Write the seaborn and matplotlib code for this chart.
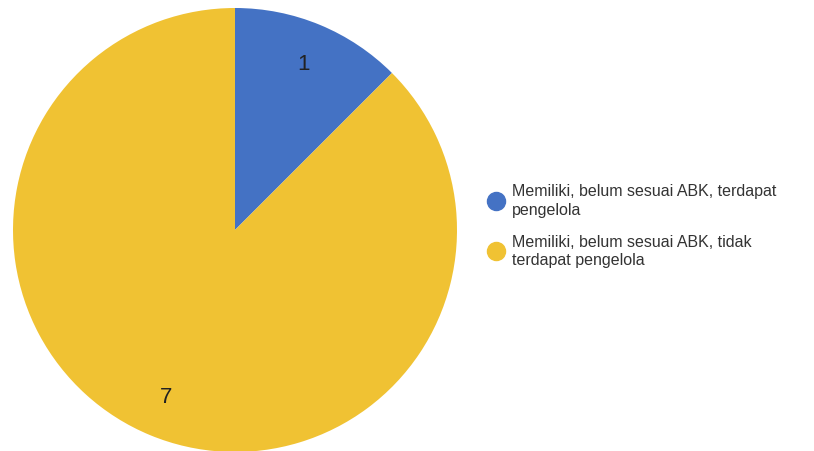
import matplotlib
matplotlib.use("Agg")
import matplotlib.pyplot as plt
from matplotlib.lines import Line2D
import seaborn as sns

sns.set_theme(style="white")
plt.rcParams["font.family"] = ["Liberation Sans", "DejaVu Sans"]

categories = [
    "Memiliki, belum sesuai ABK, terdapat\npengelola",
    "Memiliki, belum sesuai ABK, tidak\nterdapat pengelola",
]
counts = [1, 7]
colors = ["#4472C4", "#F0C233"]

W, H = 814, 452
fig = plt.figure(figsize=(W / 100, H / 100), dpi=100)

# pie centred at (235, 231) px, radius ~222 px
cx, cy, r = 235, 231, 222
ax = fig.add_axes([(cx - r) / W, (H - cy - r) / H, 2 * r / W, 2 * r / H])
wedges, texts, autotexts = ax.pie(
    counts, colors=colors, startangle=90, counterclock=False,
    autopct=lambda p: f"{round(p * sum(counts) / 100)}", pctdistance=0.81,
    wedgeprops=dict(linewidth=0), textprops=dict(fontsize=16, color="#222222"),
)
ax.set_xlim(-1, 1)
ax.set_ylim(-1, 1)
ax.set_aspect("auto")
ax.axis("off")

handles = [Line2D([0], [0], marker="o", linestyle="", markersize=13,
                  markerfacecolor=c, markeredgecolor=c) for c in colors]
leg = fig.legend(handles, categories, loc="upper left",
                 bbox_to_anchor=(478 / W, 1 - 178 / H), frameon=False,
                 fontsize=11.5, labelspacing=1.05, handletextpad=0.25,
                 handlelength=1.5, borderaxespad=0, labelcolor="#333333")
for t in leg.get_texts():
    t.set_linespacing(1.3)

fig.savefig("out.png", dpi=100)
